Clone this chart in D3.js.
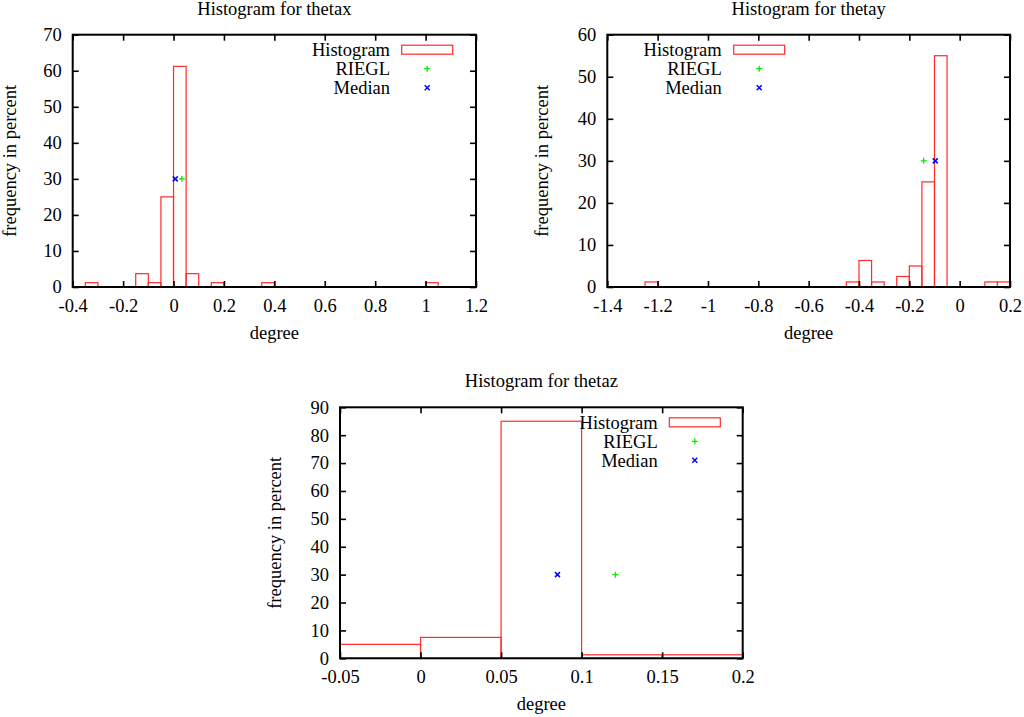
<!DOCTYPE html>
<html>
<head>
<meta charset="utf-8">
<script src="https://cdn.jsdelivr.net/npm/d3@7"></script>
<style>
  body { margin: 0; background: #fff; }
  svg text { font-family: "Liberation Serif", "Times New Roman", serif; font-size: 18.5px; fill: #000; }
</style>
</head>
<body>
<svg id="chart" width="1024" height="717"></svg>
<script>
// histogram bins: lower edge of each bin (degree) and frequency in percent
thetaxBins = [-0.35, -0.15, -0.1, -0.05, 0, 0.05, 0.15, 0.35, 1.0];
thetaxFreq = [1.2, 3.7, 1.2, 25, 61.2, 3.7, 1.2, 1.2, 1.2];
thetaxRiegl = [0.033, 30];
thetaxMedian = [0.007, 30];

thetayBins = [-1.25, -0.45, -0.4, -0.35, -0.25, -0.2, -0.15, -0.1, 0.1, 0.15];
thetayFreq = [1.2, 1.2, 6.3, 1.2, 2.5, 5.0, 25, 55, 1.2, 1.2];
thetayRiegl = [-0.143, 30];
thetayMedian = [-0.097, 30];

thetazBins = [-0.05, 0, 0.05, 0.1, 0.15];
thetazFreq = [5, 7.5, 85, 1.25, 1.25];
thetazRiegl = [0.121, 30];
thetazMedian = [0.085, 30];

binWidth = 0.05;

thetaxXTicks = [-0.4, -0.2, 0, 0.2, 0.4, 0.6, 0.8, 1, 1.2];
thetaxYTicks = [0, 10, 20, 30, 40, 50, 60, 70];
thetayXTicks = [-1.4, -1.2, -1, -0.8, -0.6, -0.4, -0.2, 0, 0.2];
thetayYTicks = [0, 10, 20, 30, 40, 50, 60];
thetazXTicks = [-0.05, 0, 0.05, 0.1, 0.15, 0.2];
thetazYTicks = [0, 10, 20, 30, 40, 50, 60, 70, 80, 90];

legendNames = ["Histogram", "RIEGL", "Median"];

var svg = d3.select("#chart");
var RED = "#ff2a2a", GREEN = "#00ee00", BLUE = "#0000ff";
var fmt = function(d){ return String(+d.toFixed(2)); };

// layout of each panel (frame box in px, legend anchor)
var panels = [
  { name: "thetax", box: [72.7, 476, 34.7, 287], bins: thetaxBins, freq: thetaxFreq,
    riegl: thetaxRiegl, median: thetaxMedian, xt: thetaxXTicks, yt: thetaxYTicks,
    legText: 390, legBox: 401.7, ylabX: 10 },
  { name: "thetay", box: [607.3, 1010, 34.7, 287], bins: thetayBins, freq: thetayFreq,
    riegl: thetayRiegl, median: thetayMedian, xt: thetayXTicks, yt: thetayYTicks,
    legText: 721.7, legBox: 733.7, ylabX: 542 },
  { name: "thetaz", box: [340, 742.7, 407.3, 658.3], bins: thetazBins, freq: thetazFreq,
    riegl: thetazRiegl, median: thetazMedian, xt: thetazXTicks, yt: thetazYTicks,
    legText: 657.7, legBox: 669.3, ylabX: 275 }
];

function plus(g, x, y, c){
  g.append("path").attr("d", "M"+(x-3)+","+y+"H"+(x+3)+"M"+x+","+(y-3)+"V"+(y+3))
    .attr("stroke", c).attr("stroke-width", 1.3).attr("fill", "none");
}
function cross(g, x, y, c){
  g.append("path").attr("d", "M"+(x-2.5)+","+(y-2.5)+"L"+(x+2.5)+","+(y+2.5)+"M"+(x-2.5)+","+(y+2.5)+"L"+(x+2.5)+","+(y-2.5))
    .attr("stroke", c).attr("stroke-width", 1.5).attr("fill", "none");
}

panels.forEach(function(p, i){
  var l = p.box[0], r = p.box[1], t = p.box[2], b = p.box[3];
  var xt = p.xt, yt = p.yt;
  var x = d3.scaleLinear().domain([xt[0], xt[xt.length-1]]).range([l, r]);
  var y = d3.scaleLinear().domain([yt[0], yt[yt.length-1]]).range([b, t]);
  var g = svg.append("g");

  g.append("clipPath").attr("id", "clip"+i)
    .append("rect").attr("x", l).attr("y", t).attr("width", r-l).attr("height", b-t);

  // histogram boxes
  g.append("g").attr("clip-path", "url(#clip"+i+")")
    .selectAll("rect").data(p.bins).enter().append("rect")
    .attr("x", function(d){ return x(d); })
    .attr("width", function(d){ return x(d+binWidth) - x(d); })
    .attr("y", function(d, k){ return y(p.freq[k]); })
    .attr("height", function(d, k){ return y(0) - y(p.freq[k]); })
    .attr("fill", "none").attr("stroke", RED).attr("stroke-width", 1.2);

  // axes, ticks inside on all four sides
  var axB = g.append("g").attr("transform", "translate(0,"+b+")")
    .call(d3.axisBottom(x).tickValues(xt).tickFormat(fmt).tickSizeInner(-6).tickSizeOuter(0).tickPadding(11.5));
  var axT = g.append("g").attr("transform", "translate(0,"+t+")")
    .call(d3.axisTop(x).tickValues(xt).tickFormat("").tickSizeInner(-6).tickSizeOuter(0));
  var axL = g.append("g").attr("transform", "translate("+l+",0)")
    .call(d3.axisLeft(y).tickValues(yt).tickFormat(fmt).tickSizeInner(-6).tickSizeOuter(0).tickPadding(11));
  var axR = g.append("g").attr("transform", "translate("+r+",0)")
    .call(d3.axisRight(y).tickValues(yt).tickFormat("").tickSizeInner(-6).tickSizeOuter(0));
  [axB, axT, axL, axR].forEach(function(a){
    a.select(".domain").remove();
    a.selectAll("line").attr("stroke", "#000").attr("stroke-width", 1.6);
    a.attr("font-family", null).attr("font-size", null);
  });

  g.append("rect").attr("x", l).attr("y", t).attr("width", r-l).attr("height", b-t)
    .attr("fill", "none").attr("stroke", "#000").attr("stroke-width", 2);

  // points
  plus(g, x(p.riegl[0]), y(p.riegl[1]), GREEN);
  cross(g, x(p.median[0]), y(p.median[1]), BLUE);

  // legend
  var rows = [t+15, t+34, t+53];
  legendNames.forEach(function(n, k){
    g.append("text").attr("x", p.legText).attr("y", rows[k]).attr("dy", "0.35em")
      .attr("text-anchor", "end").text(n);
  });
  g.append("rect").attr("x", p.legBox).attr("y", rows[0]-4.5).attr("width", 51).attr("height", 9)
    .attr("fill", "none").attr("stroke", RED).attr("stroke-width", 1.2);
  plus(g, p.legBox+25.5, rows[1], GREEN);
  cross(g, p.legBox+25.5, rows[2], BLUE);

  // titles and labels
  var cx = (l + r) / 2;
  g.append("text").attr("x", cx).attr("y", t-20).attr("text-anchor", "middle")
    .text("Histogram for " + p.name);
  g.append("text").attr("x", cx).attr("y", b+52).attr("text-anchor", "middle").text("degree");
  g.append("text").attr("transform", "translate("+p.ylabX+","+((t+b)/2)+") rotate(-90)")
    .attr("dy", "0.35em").attr("text-anchor", "middle").text("frequency in percent");
});
</script>
</body>
</html>
